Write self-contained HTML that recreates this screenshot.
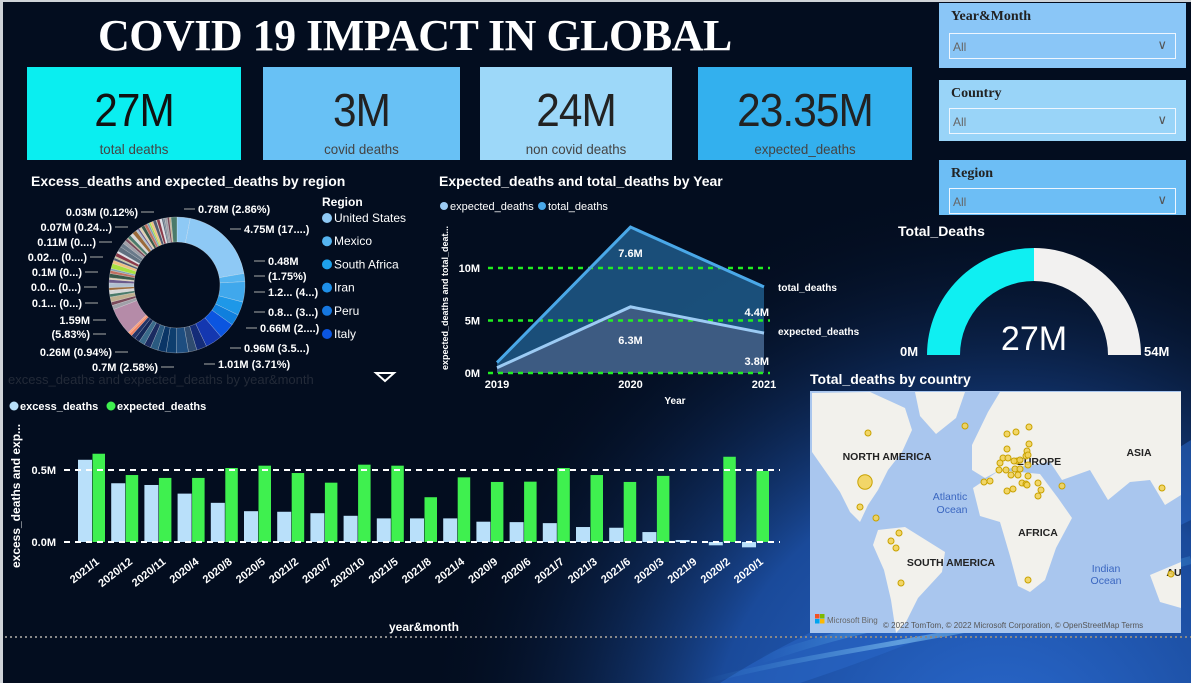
<!DOCTYPE html>
<html><head><meta charset="utf-8">
<style>
html,body{margin:0;padding:0;}
body{width:1191px;height:683px;overflow:hidden;position:relative;font-family:"Liberation Sans",sans-serif;
background:#030d1f;}
#bg{position:absolute;left:0;top:0;width:1191px;height:683px;}
.kpi{position:absolute;text-align:center;color:#222;}
.kpi .v{font-size:46px;line-height:46px;margin-top:20px;letter-spacing:-1px;transform:scaleX(0.92);}
.kpi .l{font-size:14px;color:#444;margin-top:8px;transform:scaleX(0.95);}
.slicer{position:absolute;left:939px;width:247px;}
.slicer .t{font-family:"Liberation Serif",serif;font-weight:bold;font-size:14px;color:#222;position:absolute;left:12px;top:6px;}
.slicer .dd{position:absolute;left:10px;right:10px;border:1px solid #eef6ff;height:24px;}
.slicer .dd span{position:absolute;left:3px;top:6px;font-size:12px;color:#666;}
.slicer .dd i{position:absolute;right:8px;top:3px;font-style:normal;color:#555;font-size:13px;}
svg text{font-family:"Liberation Sans",sans-serif;}
</style></head><body>
<svg id="bg" width="1191" height="683">
<defs>
<radialGradient id="rg" cx="1000" cy="760" r="580" gradientUnits="userSpaceOnUse">
<stop offset="0" stop-color="#2a6ad0"/><stop offset="0.5" stop-color="#1a4a9a"/><stop offset="1" stop-color="#030d1f" stop-opacity="0"/></radialGradient>
<linearGradient id="sw" x1="0" y1="0" x2="1" y2="0"><stop offset="0" stop-color="#4fb0f0" stop-opacity="0"/><stop offset="0.5" stop-color="#9fe0ff" stop-opacity="0.8"/><stop offset="1" stop-color="#4fb0f0" stop-opacity="0.3"/></linearGradient>
</defs>
<rect width="1191" height="683" fill="#030d1f"/>
<rect width="1191" height="683" fill="url(#rg)"/>
<path d="M720 683 C 850 600, 1000 560, 1191 440 L1191 520 C 1050 590, 900 650, 800 683 Z" fill="#2a68c8" opacity="0.55"/>
<path d="M760 660 C 900 610, 1050 600, 1191 560" stroke="url(#sw)" stroke-width="8" fill="none" opacity="0.8"/>
<path d="M700 683 C 820 650, 950 640, 1100 600" stroke="url(#sw)" stroke-width="5" fill="none" opacity="0.6"/>
<rect x="0" y="0" width="3" height="683" fill="#cfd3d8"/>
<rect x="0" y="0" width="1191" height="2" fill="#cfd3d8"/>
<line x1="5" y1="637" x2="1191" y2="637" stroke="#888" stroke-width="2" stroke-dasharray="2,3"/>
</svg>

<div style="position:absolute;left:98px;top:10px;width:660px;font-family:'Liberation Serif',serif;font-weight:bold;font-size:44px;color:#fff;letter-spacing:-0.5px;white-space:nowrap;">COVID 19 IMPACT IN GLOBAL</div>

<div class="kpi" style="left:27px;top:67px;width:214px;height:93px;background:#0AEEF0;"><div class="v" style="color:#111">27M</div><div class="l">total deaths</div></div>
<div class="kpi" style="left:263px;top:67px;width:197px;height:93px;background:#68C1F5;"><div class="v">3M</div><div class="l">covid deaths</div></div>
<div class="kpi" style="left:480px;top:67px;width:192px;height:93px;background:#9DD8F9;"><div class="v">24M</div><div class="l">non covid deaths</div></div>
<div class="kpi" style="left:698px;top:67px;width:214px;height:93px;background:#33B0EE;"><div class="v">23.35M</div><div class="l">expected_deaths</div></div>

<div class="slicer" style="top:3px;height:65px;background:#8AC6F7;"><div class="t">Year&amp;Month</div><div class="dd" style="top:30px;"><span>All</span><i>∨</i></div></div>
<div class="slicer" style="top:80px;height:61px;background:#99D4F8;"><div class="t">Country</div><div class="dd" style="top:28px;"><span>All</span><i>∨</i></div></div>
<div class="slicer" style="top:160px;height:55px;background:#6DBEF5;"><div class="t">Region</div><div class="dd" style="top:28px;"><span>All</span><i>∨</i></div></div>

<svg id="charts" style="position:absolute;left:0;top:0" width="1191" height="683">
<g id="donut">
<text x="31" y="186" fill="#fff" font-weight="bold" font-size="14">Excess_deaths and expected_deaths by region</text>
</g>
<g id="line">
<text x="439" y="186" fill="#fff" font-weight="bold" font-size="14">Expected_deaths and total_deaths by Year</text>
</g>
<g id="bars"></g>
<g id="gauge"></g>
<g id="map"></g>
</svg>

<script>
const NS='http://www.w3.org/2000/svg';
function mk(tag,attrs,parent,txt){const e=document.createElementNS(NS,tag);for(const k in attrs)e.setAttribute(k,attrs[k]);if(txt!==undefined)e.textContent=txt;parent.appendChild(e);return e;}

/* ---------- donut data ---------- */
const regionValues=[0.78,4.75,0.48,1.2,0.8,0.66,0.96,1.01,0.6,0.5,0.7,0.6,0.5,0.45,0.4,0.35,0.3,0.26,0.15,0.12,1.59,
0.25,0.2,0.3,0.18,0.22,0.15,0.28,0.2,0.1,0.25,0.18,0.12,0.3,0.2,0.15,0.1,0.22,0.11,0.3,0.25,0.2,0.15,0.07,0.2,0.18,0.25,0.12,0.1,0.15,0.2,0.18,0.12,0.1,0.15,0.2,0.03,0.18,0.12,0.1,0.08,0.15,0.12,0.1,0.35];
const regionColors=['#8EC9F5','#8EC9F5','#55B4F0','#40A8EC','#1E98E8','#0F7FDD','#0B55E0','#1437B0','#142c78','#2F4C70','#1E4E80','#0E3E6E','#0A3566','#2a5a80','#1a2a60','#3a6a8a','#152858','#223366','#F08060','#FFA07A','#B58BA8'];
const smallPalette=['#6a7a8a','#a0a0a8','#7a4a5a','#c0b090','#4a7a6a','#d8d8d8','#9a6a3a','#b0c0d0','#6a5a8a','#e0d0b0','#3a5a4a','#c07060','#80a0b0','#a8e040','#f0c080','#505a70','#c8c8a0','#8a3a4a','#e0e0e8','#607080'];
const donutLabelsRight=[['0.78M (2.86%)',198,213],['4.75M (17....)',244,233],['0.48M',268,265],['(1.75%)',268,280],['1.2... (4...)',268,296],['0.8... (3...)',268,316],['0.66M (2....)',260,332],['0.96M (3.5...)',244,352],['1.01M (3.71%)',218,368]];
const donutLabelsLeft=[['0.03M (0.12%)',138,216],['0.07M (0.24...)',112,231],['0.11M (0....)',96,246],['0.02... (0....)',87,261],['0.1M (0...)',82,276],['0.0... (0...)',81,291],['0.1... (0...)',82,307],['1.59M',90,324],['(5.83%)',90,338],['0.26M (0.94%)',112,356],['0.7M (2.58%)',158,371]];
const legendRegions=['United States','Mexico','South Africa','Iran','Peru','Italy'];
const legendColors=['#8EC9F5','#55B4F0','#1EA0EA','#1E8FE8','#1677E0','#0B55E0'];
(function(){
 const g=document.getElementById('donut');const cx=177,cy=285,R=68,r=43;
 const tot=regionValues.reduce((a,b)=>a+b,0);let a0=0;
 regionValues.forEach((v,i)=>{
  const a1=a0+v/tot*2*Math.PI;
  const p=(a,rr)=>[cx+rr*Math.sin(a),cy-rr*Math.cos(a)];
  const [x1,y1]=p(a0,R),[x2,y2]=p(a1,R),[x3,y3]=p(a1,r),[x4,y4]=p(a0,r);
  const lg=(a1-a0)>Math.PI?1:0;
  const col=i<regionColors.length?regionColors[i]:smallPalette[i%smallPalette.length];
  const s=mk('path',{d:`M${x1},${y1}A${R},${R} 0 ${lg} 1 ${x2},${y2}L${x3},${y3}A${r},${r} 0 ${lg} 0 ${x4},${y4}Z`,fill:col,stroke:'#ffffff','stroke-width':0.4,'stroke-opacity':0.6},g);
  
  
  a0=a1;});
 donutLabelsRight.forEach(l=>{const t=mk('text',{x:l[1],y:l[2],fill:'#fff','font-size':11,'font-weight':'bold'},g,l[0]);
  
  
  mk('line',{x1:l[1]-3,y1:l[2]-4,x2:l[1]-14,y2:l[2]-4,stroke:'#aaa','stroke-width':1},g);});
 donutLabelsLeft.forEach(l=>{const t=mk('text',{x:l[1],y:l[2],fill:'#fff','font-size':11,'font-weight':'bold','text-anchor':'end'},g,l[0]);
  
  
  mk('line',{x1:l[1]+3,y1:l[2]-4,x2:l[1]+16,y2:l[2]-4,stroke:'#aaa','stroke-width':1},g);});
 const lt=mk('text',{x:322,y:206,fill:'#fff','font-size':12,'font-weight':'bold'},g,'Region');
 
 
 legendRegions.forEach((n,i)=>{const y=222+i*23.2;
  const c=mk('circle',{cx:327,cy:y-4,r:5,fill:legendColors[i]},g);
  
  
  const t=mk('text',{x:334,y:y,fill:'#fff','font-size':12},g,n);
  
  });
 const ft=mk('text',{x:8,y:384,fill:'#232a38','font-size':13},g,'excess_deaths and expected_deaths by year&month');
 
 
 const tri=mk('path',{d:'M376 373 L394 373 L385 381 Z',fill:'none',stroke:'#fff','stroke-width':2},g);
 
 
})();

/* ---------- area chart data ---------- */
const years=['2019','2020','2021'];
const expectedByYear=[0.5,6.3,3.8];
const covidExtraByYear=[0.5,7.6,4.4];
const areaTicks=[0,5,10];
const areaTickLabels=['0M','5M','10M'];
(function(){
 const g=document.getElementById('line');
 const x=i=>497+i*133.5, y=v=>373-v*10.5;
 const lg=[['expected_deaths','#9ccbf4',441],['total_deaths','#4aa8e8',539]];
 lg.forEach(l=>{const c=mk('circle',{cx:l[2]+3,cy:206,r:4,fill:l[1]},g);
  const t=mk('text',{x:l[2]+9,y:210,fill:'#fff','font-size':11},g,l[0]);});
 const tot=expectedByYear.map((v,i)=>v+covidExtraByYear[i]);
 const top=tot.map((v,i)=>x(i)+','+y(v)).join(' ');
 const mid=expectedByYear.map((v,i)=>x(i)+','+y(v)).join(' ');
 const a1=mk('polygon',{points:top+' '+x(2)+','+y(0)+' '+x(0)+','+y(0),fill:'#1e5a8a',opacity:0.85},g);
 
 const a2=mk('polygon',{points:mid+' '+x(2)+','+y(0)+' '+x(0)+','+y(0),fill:'#3d5b82'},g);
 
 areaTicks.forEach((t,i)=>{const l=mk('line',{x1:488,x2:770,y1:y(t),y2:y(t),stroke:'#22ee22','stroke-width':2.5,'stroke-dasharray':'5,5'},g);
  
  const tt=mk('text',{x:480,y:y(t)+4,fill:'#fff','font-size':11,'font-weight':'bold','text-anchor':'end'},g,areaTickLabels[i]);
  });
 const l1=mk('polyline',{points:top,fill:'none',stroke:'#4aa8e8','stroke-width':3},g);
 
 const l2=mk('polyline',{points:mid,fill:'none',stroke:'#9ccbf4','stroke-width':3},g);
 
 years.forEach((yr,i)=>{const t=mk('text',{x:x(i),y:388,fill:'#fff','font-size':11,'font-weight':'bold','text-anchor':'middle'},g,yr);
  });
 [1,2].forEach(i=>{
  const anc=i===2?'end':'middle';
  const t1=mk('text',{x:x(i)+(i===2?5:0),y:(y(tot[i])+y(expectedByYear[i]))/2+(i===2?6:0)+ (i===1?-10:0),fill:'#fff','font-size':11,'font-weight':'bold','text-anchor':anc},g,covidExtraByYear[i]+'M');
  
  const t2=mk('text',{x:x(i)+(i===2?5:0),y:y(expectedByYear[i]/2)+(i===2?12:4),fill:'#fff','font-size':11,'font-weight':'bold','text-anchor':anc},g,expectedByYear[i]+'M');
  });
 const s1=mk('text',{x:778,y:291,fill:'#fff','font-size':10,'font-weight':'bold'},g,'total_deaths');
 const s2=mk('text',{x:778,y:335,fill:'#fff','font-size':10,'font-weight':'bold'},g,'expected_deaths');
 const xt=mk('text',{x:675,y:404,fill:'#fff','font-size':10,'font-weight':'bold','text-anchor':'middle'},g,'Year');
 const yt=mk('text',{x:0,y:0,fill:'#fff','font-size':9,'font-weight':'bold','text-anchor':'middle',transform:'translate(448,298) rotate(-90)'},g,'expected_deaths and total_deat...');
})();

/* ---------- bar chart data ---------- */
const months=['2021/1','2020/12','2020/11','2020/4','2020/8','2020/5','2021/2','2020/7','2020/10','2021/5','2021/8','2021/4','2020/9','2020/6','2021/7','2021/3','2021/6','2020/3','2021/9','2020/2','2020/1'];
const excessDeaths=[0.571,0.408,0.396,0.336,0.272,0.214,0.21,0.2,0.182,0.164,0.164,0.164,0.141,0.138,0.131,0.104,0.099,0.069,0.014,-0.023,-0.037];
const expectedDeaths=[0.613,0.465,0.445,0.445,0.514,0.53,0.479,0.412,0.537,0.53,0.311,0.449,0.417,0.419,0.514,0.465,0.417,0.459,0,0.592,0.493];
const barTicks=[0,0.5];
const barTickLabels=['0.0M','0.5M'];
(function(){
 const g=document.getElementById('bars');
 const y=v=>542-v*144, cx=i=>92+i*33.2;
 const lg=[['excess_deaths','#b9e0fa',10],['expected_deaths','#3ff04f',107]];
 lg.forEach(l=>{const c=mk('circle',{cx:l[2]+4,cy:406,r:4.5,fill:l[1]},g);
  const t=mk('text',{x:l[2]+10,y:410,fill:'#fff','font-size':11,'font-weight':'bold'},g,l[0]);});
 months.forEach((m,i)=>{
  const e=excessDeaths[i],x=expectedDeaths[i];
  const b1=mk('rect',{x:cx(i)-14,y:Math.min(y(e),y(0)),width:14,height:Math.abs(y(e)-y(0)),fill:'#b9e0fa'},g);
  
  const b2=mk('rect',{x:cx(i)+0.5,y:Math.min(y(x),y(0)),width:12.5,height:Math.abs(y(x)-y(0)),fill:'#3ff04f'},g);
  
  const t=mk('text',{x:0,y:0,fill:'#fff','font-size':11,'font-weight':'bold','text-anchor':'end',transform:`translate(${cx(i)+8},${563}) rotate(-38)`},g,m);
  });
 barTicks.forEach((t,i)=>{const l=mk('line',{x1:64,x2:780,y1:y(t),y2:y(t),stroke:'#fff','stroke-width':2,'stroke-dasharray':'6,5'},g);
  
  const tt=mk('text',{x:56,y:y(t)+4,fill:'#fff','font-size':11,'font-weight':'bold','text-anchor':'end'},g,barTickLabels[i]);
  });
 const yt=mk('text',{x:0,y:0,fill:'#fff','font-size':12,'font-weight':'bold','text-anchor':'middle',transform:'translate(20,496) rotate(-90)'},g,'excess_deaths and exp...');
 const xt=mk('text',{x:424,y:631,fill:'#fff','font-size':12,'font-weight':'bold','text-anchor':'middle'},g,'year&month');
})();

/* ---------- gauge data ---------- */
const gaugeValue=[27];
const gaugeMax=[54];
(function(){
 const g=document.getElementById('gauge');const cx=1034,cy=355,R=107,r=74;
 const t0=mk('text',{x:898,y:236,fill:'#fff','font-size':14,'font-weight':'bold'},g,'Total_Deaths');
 const arc=(f0,f1,col,name)=>{const a0=Math.PI*(1-f0),a1=Math.PI*(1-f1);
  const P=(a,rr)=>[cx+rr*Math.cos(a),cy-rr*Math.sin(a)];
  const [x1,y1]=P(a0,R),[x2,y2]=P(a1,R),[x3,y3]=P(a1,r),[x4,y4]=P(a0,r);
  const p=mk('path',{d:`M${x1},${y1}A${R},${R} 0 0 1 ${x2},${y2}L${x3},${y3}A${r},${r} 0 0 0 ${x4},${y4}Z`,fill:col},g);
  };
 const f=gaugeValue[0]/gaugeMax[0];
 arc(0,f,'#0FEFF2','gauge-value-arc');arc(f,1,'#F2F1F0','gauge-remaining-arc');
 const v=mk('text',{x:cx,y:350,fill:'#fff','font-size':34,'text-anchor':'middle'},g,gaugeValue[0]+'M');
 const mn=mk('text',{x:900,y:356,fill:'#fff','font-size':13,'font-weight':'bold'},g,'0M');
 const mx=mk('text',{x:1144,y:356,fill:'#fff','font-size':13,'font-weight':'bold'},g,gaugeMax[0]+'M');
})();

/* ---------- map data ---------- */
const countryDotX=[868,965,865,860,876,899,891,896,901,1028,1062,1162,1171,1007,1016,1029,1029,1007,1027,1026,1003,1008,1017,1014,1020,1000,1006,999,1015,1020,1011,1018,1028,1028,1022,1026,1028,984,990,1013,1007,1027,1038,1038,1041];
const countryDotY=[433,426,482,507,518,533,541,548,583,580,486,488,574,434,432,427,444,449,451,456,458,458,461,461,460,463,470,470,469,469,475,475,465,476,483,484,455,482,481,489,491,485,483,496,490];
const countryDeaths=[0.3,0.02,4.75,0.66,0.1,0.1,0.1,0.2,0.1,0.3,0.2,0.1,0.1,0.1,0.1,0.1,0.1,0.2,0.4,0.1,0.3,0.1,0.1,0.1,0.1,0.3,0.3,0.1,0.2,0.1,0.2,0.1,0.1,0.1,0.1,0.1,0.1,0.1,0.2,0.1,0.1,0.1,0.1,0.1,0.1];
(function(){
 const g=document.getElementById('map');
 const t=mk('text',{x:810,y:384,fill:'#fff','font-size':14,'font-weight':'bold'},g,'Total_deaths by country');
 const bg=mk('rect',{x:810,y:391,width:371,height:242,fill:'#A9C6EE'},g);
 const land=[
 '812,393 870,392 905,408 912,430 902,452 888,470 878,490 868,505 860,522 850,512 840,492 826,472 812,452',
 '915,392 965,392 956,418 936,434 920,416',
 '878,530 905,527 945,552 942,572 918,598 906,622 896,633 891,600 884,570 873,545',
 '972,445 988,412 1000,392 1181,392 1181,495 1165,505 1150,480 1130,482 1108,500 1090,470 1062,480 1050,462 1000,470 985,478 972,470',
 '973,488 1000,470 1040,474 1058,498 1072,518 1056,548 1045,580 1030,592 1018,586 1010,556 1000,522 980,516',
 '1150,575 1181,562 1181,608 1160,602'];
 land.forEach(p=>{const l=mk('polygon',{points:p,fill:'#F2F1EC'},g);});
 [['NORTH AMERICA',887,460],['EUROPE',1039,465],['ASIA',1139,456],['AFRICA',1038,536],['SOUTH AMERICA',951,566],['AU',1174,576]].forEach(l=>{
  const x=mk('text',{x:l[1],y:l[2],fill:'#222','font-size':10.5,'font-weight':'bold','text-anchor':'middle'},g,l[0]);});
 [['Atlantic',950,500],['Ocean',952,513],['Indian',1106,572],['Ocean',1106,584]].forEach(l=>{
  const x=mk('text',{x:l[1],y:l[2],fill:'#3a66c0','font-size':10.5,'text-anchor':'middle'},g,l[0]);});
 countryDotX.forEach((x,i)=>{const r=Math.max(3,Math.sqrt(countryDeaths[i])*3.3);
  const c=mk('circle',{cx:x,cy:countryDotY[i],r:r,fill:'#F2D35A',stroke:'#C9A200','stroke-width':1,'fill-opacity':0.9},g);
  });
 [['#f25022',815,614],['#7fba00',820,614],['#00a4ef',815,619],['#ffb900',820,619]].forEach(s=>mk('rect',{x:s[1],y:s[2],width:4.5,height:4.5,fill:s[0]},g));
 const b=mk('text',{x:827,y:623,fill:'#666','font-size':8},g,'Microsoft Bing');
 const c=mk('text',{x:883,y:628,fill:'#555','font-size':8},g,'© 2022 TomTom, © 2022 Microsoft Corporation, © OpenStreetMap  Terms');
})();
</script>
</body></html>
